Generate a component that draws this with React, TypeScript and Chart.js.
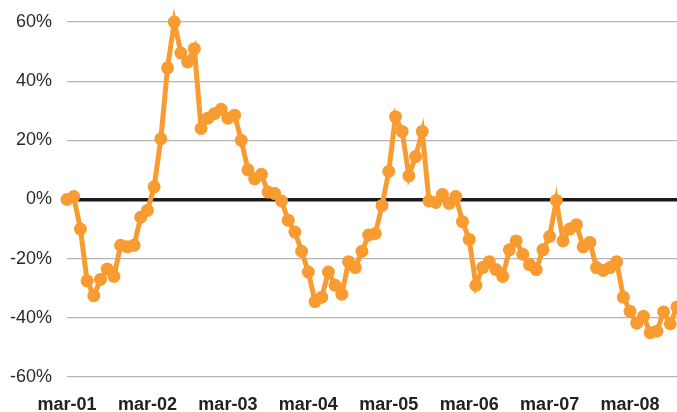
import React, { useEffect, useRef } from "react";
import { Chart, registerables } from "chart.js";

Chart.register(...registerables);

const months = ["mar", "abr", "may", "jun", "jul", "ago", "sep", "oct", "nov", "dic", "ene", "feb"];
const startYear = 1; // 2001
const values = [
  0, 1, -10, -27.5, -32.5, -27, -23.5, -26, -15.5, -16, -15.5, -6,
  -3.7, 4.3, 20.5, 44.5, 60, 49.5, 46.5, 51, 24, 27.5, 29, 30.5,
  27.5, 28.5, 20, 10, 7, 8.5, 2.5, 2, -0.5, -7, -11, -17.5,
  -24.5, -34.5, -33, -24.5, -29, -32, -21, -23, -17.5, -12, -11.5, -2,
  9.5, 28, 23, 8, 14.5, 23, -0.5, -1, 1.7, -1.3, 1, -7.5,
  -13.5, -29, -23, -21, -23.7, -26, -17, -14, -18.5, -22, -23.7, -17,
  -12.5, -0.3, -14, -10, -8.5, -16, -14.5, -23, -24, -23, -21, -33,
  -37.8, -41.8, -39.5, -45, -44.5, -38, -42, -36.3,
];
const categories: string[] = values.map((_, i) => {
  const m = i % 12;
  const yr = startYear + Math.floor(i / 12) + (m >= 10 ? 1 : 0);
  return `${months[m]}-${String(yr).padStart(2, "0")}`;
});
const yTicks = [-60, -40, -20, 0, 20, 40, 60];

const ORANGE = "#F89B30";

export default function App() {
  const ref = useRef<HTMLCanvasElement>(null);
  useEffect(() => {
    if (!ref.current) return;
    const chart = new Chart(ref.current, {
      type: "line",
      data: {
        labels: categories,
        datasets: [
          {
            data: values,
            borderColor: ORANGE,
            backgroundColor: ORANGE,
            borderWidth: 5,
            borderJoinStyle: "miter",
            pointRadius: 6.5,
            pointBorderWidth: 0,
            pointBackgroundColor: ORANGE,
            tension: 0,
            clip: false as any,
          },
        ],
      },
      options: {
        responsive: false,
        animation: false,
        devicePixelRatio: 1,
        layout: { autoPadding: false, padding: { top: 22, right: 0, bottom: 0, left: 0 } },
        plugins: { legend: { display: false }, tooltip: { enabled: false } },
        scales: {
          x: {
            type: "category",
            offset: false,
            grid: { display: false, drawTicks: false },
            border: { display: false },
            afterFit: (s: any) => {
              s.height = 35;
              s.paddingLeft = 0;
              s.paddingRight = 0;
            },
            ticks: {
              autoSkip: false,
              maxRotation: 0,
              padding: 17,
              color: "#222",
              font: { family: "Liberation Sans, Arial, sans-serif", size: 18, weight: "bold" },
              callback: (_v: any, i: number) => (i % 12 === 0 ? categories[i] : null),
            },
          },
          y: {
            min: -60,
            max: 60,
            afterBuildTicks: (s: any) => {
              s.ticks = yTicks.map((v) => ({ value: v }));
            },
            afterFit: (s: any) => {
              s.width = 67;
              s.paddingTop = 0;
              s.paddingBottom = 0;
            },
            grid: {
              drawTicks: false,
              color: (c: any) => (c.tick && c.tick.value === 0 ? "#1c1c1c" : "#b4b4b4"),
              lineWidth: (c: any) => (c.tick && c.tick.value === 0 ? 3.5 : 1.2),
            },
            border: { display: false },
            ticks: {
              padding: 15,
              color: "#2a2a2a",
              font: { family: "Liberation Sans, Arial, sans-serif", size: 18 },
              callback: (v: any) => `${v}%`,
            },
          },
        },
      },
    });
    return () => chart.destroy();
  }, []);
  return (
    <div style={{ position: "fixed", left: 0, top: 0, width: 677, height: 412, background: "#fff" }}>
      <canvas ref={ref} width={677} height={412} style={{ width: 677, height: 412 }} />
    </div>
  );
}
